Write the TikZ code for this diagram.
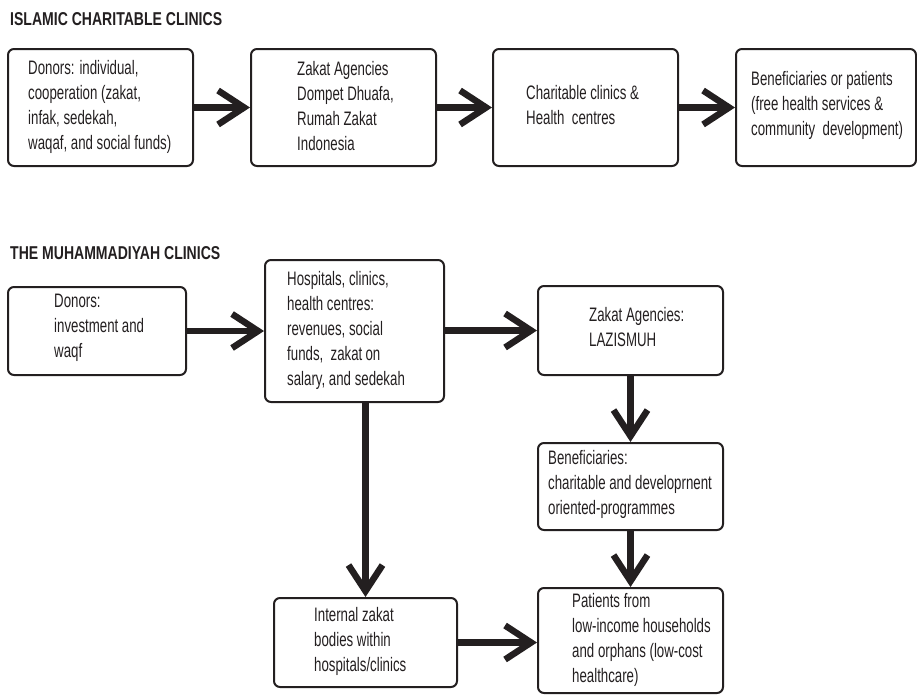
\documentclass[tikz,border=0pt]{standalone}
\usepackage{fontspec}
\setmainfont{Liberation Sans}[FakeStretch=0.68]
\newfontfamily\headfont{Liberation Sans}[FakeStretch=0.755]
\usetikzlibrary{arrows.meta,calc}
\definecolor{ink}{HTML}{231F20}
\tikzset{
  box/.style={draw=ink, line width=2pt, rounded corners=6pt, inner sep=0pt, anchor=north west},
  txt/.style={anchor=west, align=left, inner sep=0pt, text=ink, font=\fontsize{19.5}{25}\selectfont},
  head/.style={anchor=base west, inner sep=0pt, text=ink, font=\headfont\bfseries\fontsize{18.6}{22}\selectfont},
  flow/.style={draw=ink, line width=6.5pt, -{Straight Barb[length=26pt,width=34pt]}}
}
\begin{document}
\begin{tikzpicture}[x=1pt,y=-1pt]
\useasboundingbox (0,0) rectangle (917,694);
% headings
\node[head] (h1) at (10,25) {ISLAMIC CHARITABLE CLINICS};
\node[head] (h2) at (10,259) {THE MUHAMMADIYAH CLINICS};
% top row boxes
\node[box, minimum width=185pt, minimum height=117pt] (a1) at (7,48) {};
\node[box, minimum width=185pt, minimum height=117pt] (a2) at (250,48) {};
\node[box, minimum width=185pt, minimum height=117pt] (a3) at (492,48) {};
\node[box, minimum width=180pt, minimum height=117pt] (a4) at (735,48) {};
\node[txt] (ta1) at ($(a1.west)+(21,-1)$) {Donors: individual,\\cooperation (zakat,\\infak, sedekah,\\waqaf, and social funds)};
\node[txt] (ta2) at ($(a2.west)+(47,-1)$) {Zakat Agencies\\Dompet Dhuafa,\\Rumah Zakat\\Indonesia};
\node[txt] (ta3) at ($(a3.west)+(34,-2)$) {Charitable clinics \&\\Health\ \ centres};
\node[txt] (ta4) at ($(a4.west)+(16,-2)$) {Beneficiaries or patients\\(free health services \&\\community\ \ development)};
\draw[flow] (a1.east) -- (a2.west);
\draw[flow] (a2.east) -- (a3.west);
\draw[flow] (a3.east) -- (a4.west);
% Muhammadiyah boxes
\node[box, minimum width=178pt, minimum height=88pt] (b1) at (7,286) {};
\node[box, minimum width=179pt, minimum height=142pt] (b2) at (264,259) {};
\node[box, minimum width=185pt, minimum height=89pt] (b3) at (537,285) {};
\node[box, minimum width=185pt, minimum height=87pt] (b4) at (537,442) {};
\node[box, minimum width=185pt, minimum height=105pt] (b5) at (537,587) {};
\node[box, minimum width=183pt, minimum height=89pt] (b6) at (273,597) {};
\node[txt] (tb1) at ($(b1.west)+(47,-3)$) {Donors:\\investment and\\waqf};
\node[txt] (tb2) at ($(b2.west)+(23,-1)$) {Hospitals, clinics,\\health centres:\\revenues, social\\funds,\ \ zakat\,on\\salary, and sedekah};
\node[txt] (tb3) at ($(b3.west)+(52,-3)$) {Zakat Agencies:\\LAZISMUH};
\node[txt] (tb4) at ($(b4.west)+(11,-2)$) {Beneficiaries:\\charitable and developrnent\\oriented-programmes};
\node[txt] (tb5) at ($(b5.west)+(35,-1)$) {Patients from\\low-income households\\and orphans (low-cost\\healthcare)};
\node[txt] (tb6) at ($(b6.west)+(41,-1)$) {Internal zakat\\bodies within\\hospitals/clinics};
\draw[flow] (b1.east) -- (b1.east -| b2.west);
\draw[flow] (b2.east |- b3.west) -- (b3.west);
\draw[flow] (b3.south) -- (b4.north);
\draw[flow] (b4.south) -- (b5.north);
\draw[flow] (b2.south -| b6.north) -- (b6.north);
\draw[flow] (b6.east) -- (b6.east -| b5.west);
\end{tikzpicture}
\end{document}
